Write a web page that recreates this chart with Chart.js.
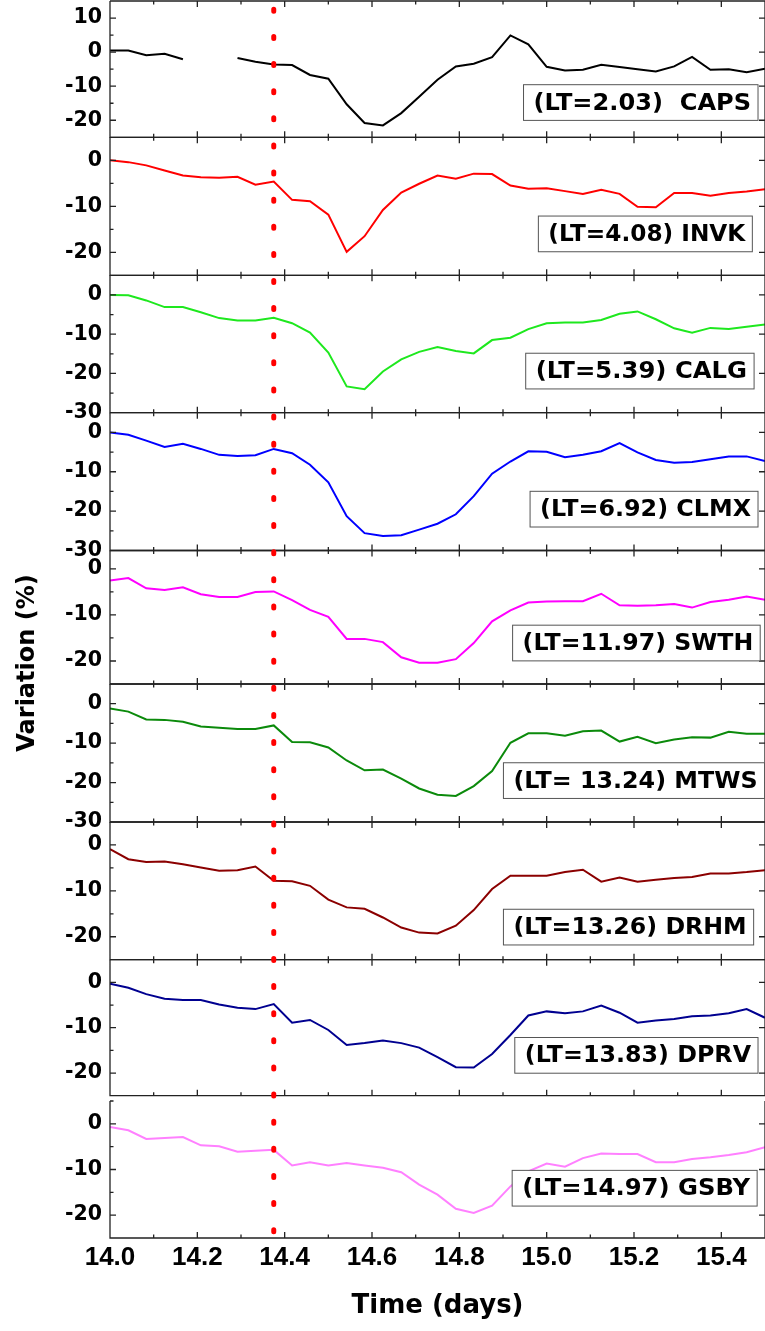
<!DOCTYPE html>
<html>
<head>
<meta charset="utf-8">
<title>Variation (%)</title>
<script src="https://cdn.jsdelivr.net/npm/chart.js@4.4.0/dist/chart.umd.min.js"></script>
<style>
    html, body { margin: 0; padding: 0; background: #fff; overflow: hidden; }
    #wrap { width: 765px; height: 1331px; overflow: hidden; }
    #chart { display: block; }
</style>
</head>
<body>
<div id="wrap"><canvas id="chart" width="769" height="1331"></canvas></div>
<script>
// hourly samples, time in days
var times = [14.000, 14.042, 14.083, 14.125, 14.167, 14.208, 14.250, 14.292, 14.333, 14.375,
    14.417, 14.458, 14.500, 14.542, 14.583, 14.625, 14.667, 14.708, 14.750, 14.792,
    14.833, 14.875, 14.917, 14.958, 15.000, 15.042, 15.083, 15.125, 15.167, 15.208,
    15.250, 15.292, 15.333, 15.375, 15.417, 15.458, 15.500];

var stations = ['CAPS', 'INVK', 'CALG', 'CLMX', 'SWTH', 'MTWS', 'DRHM', 'DPRV', 'GSBY'];
var tags = ['(LT=2.03)  CAPS', '(LT=4.08) INVK', '(LT=5.39) CALG', '(LT=6.92) CLMX', '(LT=11.97) SWTH',
    '(LT= 13.24) MTWS', '(LT=13.26) DRHM', '(LT=13.83) DPRV', '(LT=14.97) GSBY'];

var caps = [0.5, 0.5, -0.9, -0.5, -2.1, null, null, -1.7, -2.8, -3.6, -3.8, -6.7, -7.8, -15.3, -20.8, -21.5,
    -17.9, -13.1, -8.1, -4.2, -3.4, -1.5, 4.9, 2.3, -4.3, -5.4, -5.2, -3.7, -4.4, -5.0, -5.7, -4.2, -1.4, -5.2, -5.0, -5.9, -4.9];
var invk = [0, -0.4, -1.1, -2.2, -3.3, -3.7, -3.8, -3.6, -5.3, -4.6, -8.6, -8.9, -11.8, -19.9, -16.5, -10.8,
    -7.0, -5.1, -3.3, -4.0, -2.9, -3.0, -5.5, -6.2, -6.1, -6.7, -7.3, -6.4, -7.3, -10.1, -10.2, -7.1, -7.1, -7.7, -7.1, -6.8, -6.3];
var calg = [0, -0.1, -1.4, -3.1, -3.1, -4.4, -5.9, -6.5, -6.5, -5.8, -7.2, -9.6, -14.7, -23.3, -24.0, -19.5,
    -16.4, -14.5, -13.3, -14.3, -14.9, -11.5, -10.9, -8.7, -7.2, -7.0, -7.0, -6.4, -4.8, -4.2, -6.2, -8.5, -9.6, -8.4, -8.7, -8.1, -7.5];
var clmx = [0, -0.6, -2.1, -3.7, -2.9, -4.2, -5.7, -6.0, -5.8, -4.2, -5.3, -8.2, -12.7, -21.3, -25.6, -26.3,
    -26.1, -24.7, -23.2, -20.8, -16.2, -10.5, -7.4, -4.8, -4.9, -6.3, -5.7, -4.8, -2.7, -5.1, -7.0, -7.7, -7.5, -6.8, -6.1, -6.1, -7.3];
var swth = [-2.5, -2.0, -4.2, -4.6, -4.0, -5.5, -6.1, -6.1, -5.0, -4.9, -6.8, -8.9, -10.4, -15.2, -15.2, -15.9,
    -19.2, -20.4, -20.4, -19.6, -16.1, -11.4, -9.0, -7.3, -7.1, -7.0, -7.0, -5.4, -7.9, -8.0, -7.9, -7.6, -8.4, -7.2, -6.7, -6.0, -6.7];
var mtws = [-1.2, -2.0, -4.0, -4.1, -4.6, -5.8, -6.1, -6.4, -6.4, -5.5, -9.7, -9.8, -11.1, -14.4, -16.9, -16.7,
    -19.0, -21.5, -23.1, -23.4, -20.9, -17.1, -9.9, -7.5, -7.5, -8.1, -7.0, -6.8, -9.6, -8.4, -10.0, -9.1, -8.5, -8.6, -7.1, -7.6, -7.6];
var drhm = [-0.9, -3.1, -3.7, -3.6, -4.2, -4.9, -5.6, -5.5, -4.7, -7.8, -7.9, -8.9, -11.9, -13.6, -13.9, -15.8,
    -18.0, -19.1, -19.3, -17.6, -14.2, -9.6, -6.7, -6.7, -6.7, -5.9, -5.4, -8.0, -7.1, -8.0, -7.6, -7.2, -7.0, -6.2, -6.2, -5.9, -5.5];
var dprv = [-0.3, -1.2, -2.6, -3.6, -3.9, -3.9, -4.9, -5.6, -5.9, -4.8, -8.9, -8.3, -10.5, -13.8, -13.4, -12.8,
    -13.4, -14.4, -16.5, -18.7, -18.8, -15.8, -11.6, -7.3, -6.4, -6.8, -6.4, -5.1, -6.7, -8.9, -8.4, -8.1, -7.5, -7.3, -6.8, -5.9, -7.8];
var gsby = [-0.7, -1.4, -3.3, -3.1, -2.9, -4.7, -4.9, -6.1, -5.9, -5.7, -9.1, -8.4, -9.1, -8.6, -9.1, -9.6,
    -10.6, -13.3, -15.5, -18.6, -19.5, -17.9, -13.7, -10.4, -8.7, -9.4, -7.5, -6.5, -6.6, -6.6, -8.4, -8.4, -7.7, -7.3, -6.8, -6.2, -5.1];

var onsetDay = 14.375;

// per panel layout: axis range, colour, share of height, tag box (from/to in days, centre level)
var panels = [
    {values: caps, color: '#000000', min: -25, max: 15, size: 136.3, tag: [14.947, 15.484, -14.8]},
    {values: invk, color: '#ff0000', min: -25, max: 5, size: 138, tag: [14.981, 15.471, -16.0]},
    {values: calg, color: '#1ee81e', min: -30, max: 5, size: 137.4, tag: [14.952, 15.475, -19.4]},
    {values: clmx, color: '#0000ff', min: -30, max: 5, size: 137.8, tag: [14.962, 15.484, -19.5]},
    {values: swth, color: '#ff00ff', min: -25, max: 4, size: 133.5, tag: [14.922, 15.489, -16.1]},
    {values: mtws, color: '#0b8a0b', min: -30, max: 5, size: 138, tag: [14.901, 15.499, -19.5]},
    {values: drhm, color: '#8b0000', min: -25, max: 5, size: 137.7, tag: [14.901, 15.474, -17.9]},
    {values: dprv, color: '#000090', min: -25, max: 5, size: 136, tag: [14.927, 15.484, -16.1]},
    {values: gsby, color: '#ff80ff', min: -25, max: 5, size: 137, tag: [14.921, 15.482, -14.1]}
];

function isMajorDay(v) {
    return Math.round(v * 10) % 2 === 0;
}
function isMajorLevel(v) {
    return Math.abs(v % 10) < 1e-6;
}

var scales = {
    x: {
        type: 'linear',
        position: 'bottom',
        min: 14,
        max: 15.5,
        afterFit: function (s) { s.height = 93; },
        grid: {display: false, drawTicks: false},
        border: {display: false},
        ticks: {
            stepSize: 0.1,
            includeBounds: false,
            autoSkip: false,
            maxRotation: 0,
            maxTicksLimit: 100,
            padding: 4,
            color: '#000',
            font: {family: 'Liberation Sans', weight: 'bold', size: 26},
            callback: function (v) { return isMajorDay(v) ? v.toFixed(1) : ''; }
        },
        title: {
            display: true,
            text: 'Time (days)',
            color: '#000',
            font: {family: 'DejaVu Sans', weight: 'bold', size: 26},
            padding: {top: 0, bottom: 9}
        }
    }
};

var datasets = [];
panels.forEach(function (p, i) {
    var id = 'y' + (i + 1);
    p.id = id;
    scales[id] = {
        type: 'linear',
        position: 'left',
        stack: 'panels',
        stackWeight: p.size,
        weight: i < 8 ? 10 - i : 1,
        min: p.min,
        max: p.max,
        afterFit: function (s) {
            s.width = 110;
            s.paddingTop = 0;
            s.paddingBottom = 0;
        },
        grid: {display: false, drawTicks: false},
        border: {display: false},
        ticks: {
            stepSize: 5,
            includeBounds: false,
            autoSkip: false,
            padding: 8,
            color: '#000',
            font: {family: 'DejaVu Sans', weight: 'bold', size: 20.5},
            callback: function (v) { return isMajorLevel(v) ? String(v) : ''; }
        }
    };
    datasets.push({
        label: stations[i],
        data: times.map(function (t, k) { return {x: t, y: p.values[k]}; }),
        yAxisID: id,
        borderColor: p.color,
        borderWidth: 2,
        pointRadius: 0,
        tension: 0,
        spanGaps: false
    });
});
// thin empty strip between the last two panels
scales.gap = {type: 'linear', position: 'left', stack: 'panels', stackWeight: 5.3, weight: 2, display: false, min: 0, max: 1};

var panelFrame = {
    id: 'panelFrame',
    afterDatasetsDraw: function (chart) {
        var ctx = chart.ctx;
        var area = chart.chartArea;
        var xs = chart.scales.x;
        ctx.save();
        ctx.strokeStyle = '#222';
        ctx.lineWidth = 1.3;
        panels.forEach(function (p, i) {
            var s = chart.scales[p.id];
            var last = i === panels.length - 1;
            ctx.beginPath();
            if (!last) {
                ctx.moveTo(area.left, s.top);
                ctx.lineTo(area.right, s.top);
            }
            ctx.moveTo(area.left, s.top);
            ctx.lineTo(area.left, s.bottom);
            ctx.lineTo(area.right, s.bottom);
            ctx.lineTo(area.right, s.top);
            xs.ticks.forEach(function (t) {
                var px = xs.getPixelForValue(t.value);
                var len = isMajorDay(t.value) ? 6 : 3.5;
                ctx.moveTo(px, s.bottom);
                ctx.lineTo(px, s.bottom - len);
                if (!last) {
                    ctx.moveTo(px, s.top);
                    ctx.lineTo(px, s.top + len);
                }
            });
            s.ticks.forEach(function (t) {
                var py = s.getPixelForValue(t.value);
                var major = isMajorLevel(t.value);
                ctx.moveTo(area.left, py);
                ctx.lineTo(area.left + (major ? 6 : 3.5), py);
                if (major) {
                    ctx.moveTo(area.right, py);
                    ctx.lineTo(area.right - 6, py);
                }
            });
            ctx.stroke();
        });

        // onset marker through every panel
        var px = xs.getPixelForValue(onsetDay);
        ctx.strokeStyle = '#ff0000';
        ctx.lineWidth = 5;
        ctx.lineCap = 'round';
        ctx.setLineDash([2, 25.12]);
        ctx.lineDashOffset = 27.12 - (10.3 - 1 - area.top);
        ctx.beginPath();
        ctx.moveTo(px, area.top);
        ctx.lineTo(px, area.bottom);
        ctx.stroke();
        ctx.setLineDash([]);
        ctx.lineCap = 'butt';

        // station tags
        ctx.font = 'bold 23px "DejaVu Sans"';
        ctx.textBaseline = 'middle';
        panels.forEach(function (p, i) {
            var s = chart.scales[p.id];
            var left = xs.getPixelForValue(p.tag[0]);
            var right = xs.getPixelForValue(p.tag[1]);
            var mid = s.getPixelForValue(p.tag[2]);
            var h = 35.7;
            ctx.fillStyle = '#fff';
            ctx.fillRect(left, mid - h / 2, right - left, h);
            ctx.strokeStyle = '#555';
            ctx.lineWidth = 1;
            ctx.strokeRect(left, mid - h / 2, right - left, h);
            var w = ctx.measureText(tags[i]).width;
            var room = right - left - 17;
            ctx.save();
            ctx.translate(left + 10, mid + 1);
            ctx.scale(room / w, 1);
            ctx.fillStyle = '#000';
            ctx.fillText(tags[i], 0, 0);
            ctx.restore();
        });

        // shared y title
        ctx.save();
        ctx.translate(27.5, 663);
        ctx.rotate(-Math.PI / 2);
        ctx.font = 'bold 24px "DejaVu Sans"';
        ctx.textAlign = 'center';
        ctx.fillStyle = '#000';
        ctx.fillText('Variation (%)', 0, 0);
        ctx.restore();
        ctx.restore();
    }
};

Chart.defaults.font.family = 'DejaVu Sans';
var ctx = document.getElementById('chart').getContext('2d');
var chart = new Chart(ctx, {
    type: 'line',
    data: {datasets: datasets},
    options: {
        responsive: false,
        animation: false,
        devicePixelRatio: 1,
        layout: {padding: {top: 1, right: 0, bottom: 0, left: 0}},
        plugins: {legend: {display: false}, tooltip: {enabled: false}},
        scales: scales
    },
    plugins: [panelFrame]
});
</script>
</body>
</html>
